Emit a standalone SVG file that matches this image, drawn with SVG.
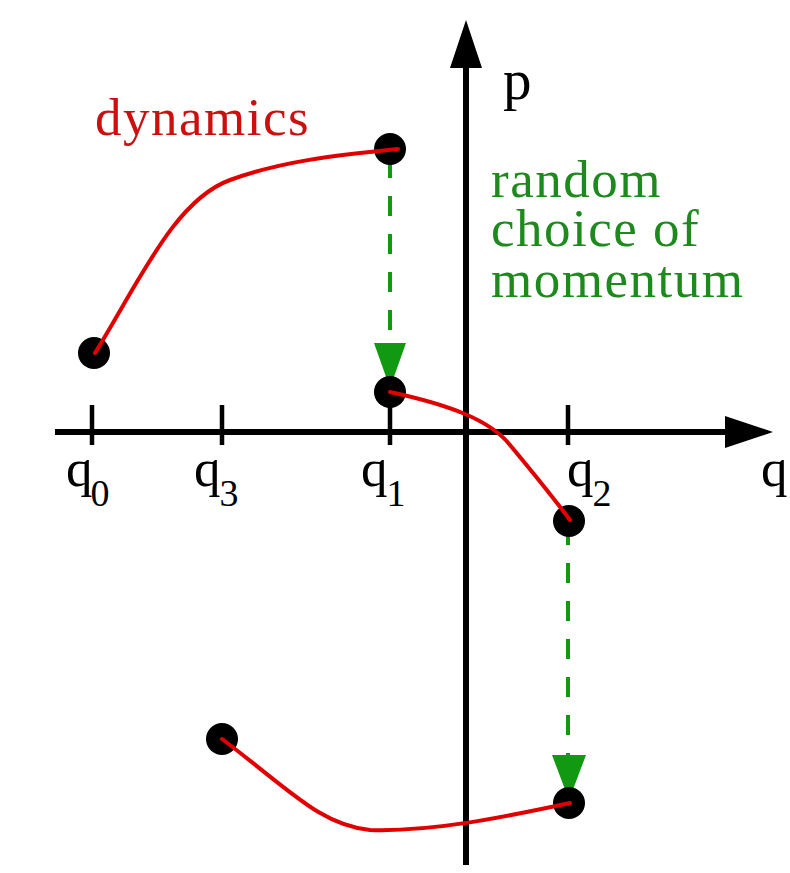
<svg xmlns="http://www.w3.org/2000/svg" width="790" height="873" viewBox="0 0 790 873">
<style>
.axis{stroke:#000;stroke-width:6;fill:none}
.tick{stroke:#000;stroke-width:4.5}
.dyn{stroke:#e00000;stroke-width:4;fill:none;stroke-linecap:round}
.rnd{stroke:#119911;stroke-width:4;fill:none;stroke-dasharray:20 18}
.lbl{font-family:"Liberation Serif",serif;font-size:53px;fill:#000}
.sub{font-size:38px}
.red{font-family:"Liberation Serif",serif;font-size:53px;letter-spacing:1.5px;fill:#cc1010}
.grn{font-family:"Liberation Serif",serif;font-size:53px;letter-spacing:1.5px;fill:#1e8a1e}
.dot{fill:#000}
</style>
<rect width="790" height="873" fill="#fff"/>
<g id="axes">
<line class="axis" x1="55" y1="432" x2="730" y2="432"/>
<polygon points="725,416 773,432 725,448" fill="#000"/>
<line class="axis" x1="466" y1="865" x2="466" y2="64"/>
<polygon points="450,68 466,20 482,68" fill="#000"/>
<line class="tick" x1="92" y1="405" x2="92" y2="445"/>
<line class="tick" x1="222" y1="405" x2="222" y2="445"/>
<line class="tick" x1="390" y1="405" x2="390" y2="445"/>
<line class="tick" x1="568" y1="405" x2="568" y2="445"/>
<text class="lbl" x="503" y="99" style="font-size:57px">p</text>
<text class="lbl" x="761" y="486">q</text>
<text class="lbl" x="66" y="486">q<tspan class="sub" dx="-2" dy="20">0</tspan></text>
<text class="lbl" x="194" y="486">q<tspan class="sub" dx="-1" dy="20">3</tspan></text>
<text class="lbl" x="361" y="486">q<tspan class="sub" dx="-1" dy="20">1</tspan></text>
<text class="lbl" x="567" y="486">q<tspan class="sub" dx="-1" dy="20">2</tspan></text>
</g>
<g id="connectors">
<line class="rnd" x1="390" y1="158" x2="390" y2="345"/>
<polygon points="374,343 406,343 390,388" fill="#119911"/>
<line class="rnd" x1="568" y1="525" x2="568" y2="757"/>
<polygon points="552,755 586,755 569,800" fill="#119911"/>
</g>
<g id="p0"><circle class="dot" cx="94" cy="353" r="16"/></g>
<g id="p1a"><circle class="dot" cx="390" cy="149" r="16"/></g>
<g id="p1b"><circle class="dot" cx="390" cy="392" r="16"/></g>
<g id="p2a"><circle class="dot" cx="569" cy="521" r="16"/></g>
<g id="p3"><circle class="dot" cx="222" cy="739" r="16"/></g>
<g id="p2b"><circle class="dot" cx="569" cy="803" r="16"/></g>
<g id="trajectories">
<path class="dyn" d="M95,353 C140,280 175,200 230,180 S340,155 398,149"/>
<path class="dyn" d="M390,392 C450,405 490,420 510,445 C535,475 555,500 570,520"/>
<path class="dyn" d="M222,739 C290,790 320,825 370,830 C430,832 500,818 570,803"/>
</g>
<g id="labels">
<text class="red" x="95" y="135">dynamics</text>
<text class="grn" x="491" y="197">random<tspan x="491" y="246">choice of</tspan><tspan x="491" y="297">momentum</tspan></text>
</g>
</svg>
